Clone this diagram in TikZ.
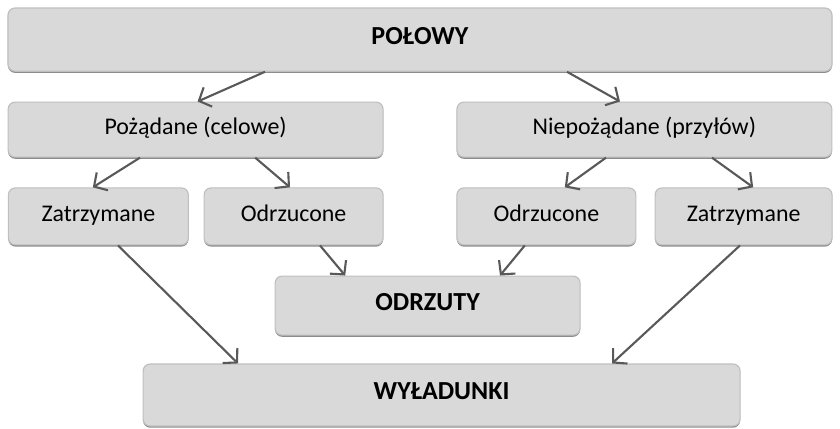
\documentclass[tikz,border=0pt]{standalone}
\usepackage{fontspec}
\setmainfont{Carlito}
\usepackage{tikz}
\usetikzlibrary{arrows.meta,shadows}
\definecolor{boxfill}{HTML}{D9D9D9}
\definecolor{boxline}{HTML}{BFBFBF}
\definecolor{arrgray}{HTML}{595959}

\begin{document}
\begin{tikzpicture}[
    box/.style={draw=boxline, line width=0.8pt, rounded corners=5pt, fill=boxfill, inner sep=0pt,
        align=center, font=\fontsize{17}{20}\selectfont, text height=2ex, text depth=0.55ex,
        drop shadow={shadow xshift=0pt, shadow yshift=-1.2pt, fill=black!45, opacity=1}},
    head/.style={box, font=\fontsize{18.5}{22}\selectfont\bfseries},
    arr/.style={-{Straight Barb[length=7pt, width=15pt]}, line width=1.5pt, draw=arrgray}
]
\useasboundingbox (0,0) rectangle (21,-10.7);

\node[head, minimum width=20.6cm, minimum height=1.58cm] (polowy) at (10.5,-0.99) {POŁOWY};
\node[box, minimum width=9.375cm, minimum height=1.375cm] (poz) at (4.89,-3.24) {Pożądane (celowe)};
\node[box, minimum width=9.375cm, minimum height=1.375cm] (niepoz) at (16.11,-3.24) {Niepożądane (przyłów)};
\node[box, minimum width=4.5cm, minimum height=1.425cm] (zatL) at (2.46,-5.41) {Zatrzymane};
\node[box, minimum width=4.475cm, minimum height=1.425cm] (odrL) at (7.34,-5.41) {Odrzucone};
\node[box, minimum width=4.475cm, minimum height=1.425cm] (odrR) at (13.66,-5.41) {Odrzucone};
\node[box, minimum width=4.425cm, minimum height=1.425cm] (zatR) at (18.59,-5.41) {Zatrzymane};
\node[head, minimum width=7.625cm, minimum height=1.475cm] (odrzuty) at (10.69,-7.64) {ODRZUTY};
\node[head, minimum width=14.925cm, minimum height=1.55cm] (wyl) at (11.04,-9.875) {WYŁADUNKI};

\draw[arr] ([xshift=-3.875cm]polowy.south) -- ([xshift=0.05cm]poz.north);
\draw[arr] ([xshift=3.675cm]polowy.south) -- ([xshift=-0.61cm]niepoz.north);
\draw[arr] ([xshift=-1.39cm]poz.south) -- ([xshift=-0.14cm]zatL.north);
\draw[arr] ([xshift=1.49cm]poz.south) -- ([xshift=-0.09cm]odrL.north);
\draw[arr] ([xshift=-0.96cm]niepoz.south) -- ([xshift=0.46cm]odrR.north);
\draw[arr] ([xshift=1.69cm]niepoz.south) -- ([xshift=0.24cm]zatR.north);
\draw[arr] ([xshift=0.66cm]odrL.south) -- ([xshift=-2.06cm]odrzuty.north);
\draw[arr] ([xshift=-0.54cm]odrR.south) -- ([xshift=1.81cm]odrzuty.north);
\draw[arr] ([xshift=0.49cm]zatL.south) -- ([xshift=-5.09cm]wyl.north);
\draw[arr] ([xshift=-0.09cm]zatR.south) -- ([xshift=4.26cm]wyl.north);
\end{tikzpicture}
\end{document}
